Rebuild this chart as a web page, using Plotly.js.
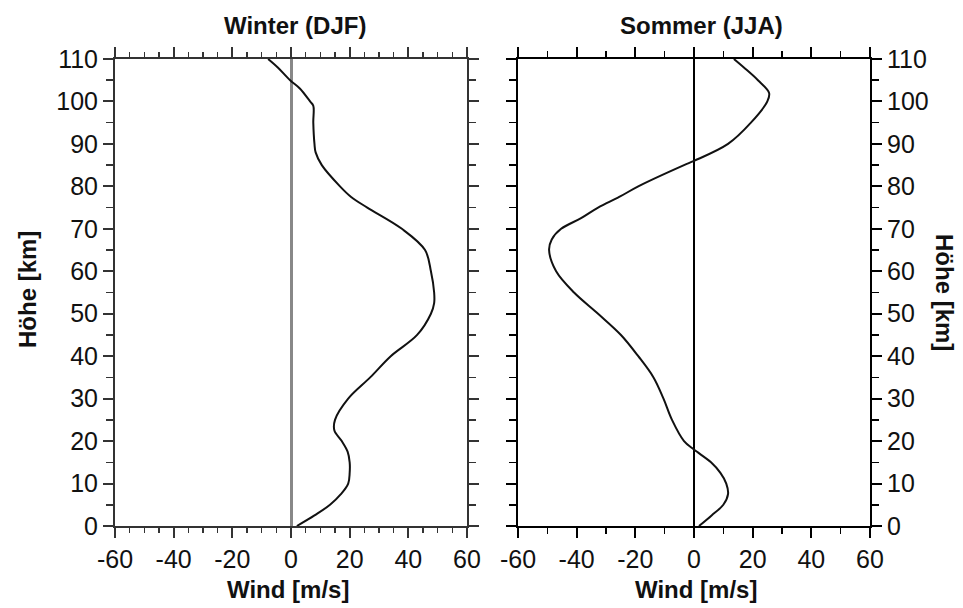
<!DOCTYPE html>
<html>
<head>
<meta charset="utf-8">
<script src="https://cdn.plot.ly/plotly-3.0.1.min.js"></script>
<style>html,body{margin:0;padding:0;background:#fff;}#chart{width:963px;height:608px;}</style>
</head>
<body>
<div id="chart"></div>
<script>
// Winter (DJF) zonal wind profile
const winterHeight = [0, 2.5, 5, 7.5, 10, 12.5, 15, 17.5, 20, 22.5, 25, 30, 35, 40, 45, 50, 52.5, 55, 60, 65, 70, 75, 77.5, 80, 85, 88, 90, 95, 99, 100, 103, 105, 108, 110];
const winterWind   = [2, 8, 13.3, 17, 19.5, 20, 20, 19.3, 17.3, 14.8, 15, 19.5, 27, 34, 43, 47.7, 48.8, 48.8, 47.7, 45.7, 37.8, 26, 20.5, 16.7, 10.5, 8.4, 8, 7.6, 7.6, 6.5, 3.1, -0.3, -4.5, -7.8];
// Summer (JJA) zonal wind profile
const summerHeight = [0, 2.5, 5, 7.5, 10, 12.5, 15, 18, 20, 25, 30, 35, 40, 45, 50, 55, 60, 65, 67.5, 70, 72.5, 75, 77.5, 80, 85, 86, 90, 95, 100, 102, 105, 108, 110];
const summerWind   = [1.7, 6, 10, 11.6, 11, 9, 5.8, 0, -3.4, -7.5, -10.4, -13.8, -19, -24.9, -32.7, -40.9, -47, -49.4, -48.5, -45.3, -38.5, -32.7, -25.5, -19, -3.4, 0, 11.6, 19.4, 25, 25.6, 21.8, 17, 13.6];

const windTickVals = [-60, -40, -20, 0, 20, 40, 60];
const windTickText = ['-60', '-40', '-20', '0', '20', '40', '60'];
const heightTickVals = [0, 10, 20, 30, 40, 50, 60, 70, 80, 90, 100, 110];
const heightTickText = ['0', '10', '20', '30', '40', '50', '60', '70', '80', '90', '100', '110'];

const panelTitles = ['Winter (DJF)', 'Sommer (JJA)'];
const xTitle = 'Wind [m/s]';
const yTitle = 'Höhe [km]';

const W = 963, H = 608;
const FONT = 'Liberation Sans, Arial, sans-serif';
const tickFont = {family: FONT, size: 25, color: '#111'};
const titleFont = {family: FONT, size: 24, color: '#111'};

const traces = [
  {x: winterWind, y: winterHeight, xaxis: 'x', yaxis: 'y', mode: 'lines',
   line: {color: '#111', width: 2, shape: 'spline', smoothing: 1.0}, hoverinfo: 'skip'},
  {x: summerWind, y: summerHeight, xaxis: 'x2', yaxis: 'y2', mode: 'lines',
   line: {color: '#111', width: 2, shape: 'spline', smoothing: 1.0}, hoverinfo: 'skip'}
];

function xAx(dom, anchor, col, zcol, zw, minorDt, minorLen) {
  return {
    domain: dom, anchor: anchor, range: [-60, 60], fixedrange: true,
    tickmode: 'array', tickvals: windTickVals, ticktext: windTickText,
    ticks: 'outside', ticklen: 10, tickwidth: 2, tickcolor: col,
    minor: {dtick: minorDt, tick0: 0, ticks: 'outside', ticklen: minorLen, tickwidth: 1.5, tickcolor: col, showgrid: false},
    showline: true, linecolor: col, linewidth: 2, mirror: 'ticks',
    showgrid: false, zeroline: true, zerolinecolor: zcol, zerolinewidth: zw,
    tickfont: tickFont
  };
}
function yAx(dom, anchor, side, col) {
  return {
    domain: dom, anchor: anchor, side: side, range: [0, 110], fixedrange: true,
    tickmode: 'array', tickvals: heightTickVals, ticktext: heightTickText,
    ticks: 'outside', ticklen: 10, tickwidth: 2, tickcolor: col,
    minor: {dtick: 5, tick0: 0, ticks: 'outside', ticklen: 7, tickwidth: 1.5, tickcolor: col, showgrid: false},
    showline: true, linecolor: col, linewidth: 2, mirror: 'ticks',
    showgrid: false, zeroline: false, tickfont: tickFont
  };
}

const yDom = [1 - 526 / H, 1 - 59 / H];
const layout = {
  width: W, height: H,
  margin: {l: 0, r: 0, t: 0, b: 0},
  paper_bgcolor: '#fff', plot_bgcolor: '#fff',
  showlegend: false,
  xaxis: xAx([115 / W, 467 / W], 'y', '#333', '#888', 3, 5, 5),
  yaxis: yAx(yDom, 'x', 'left', '#333'),
  xaxis2: xAx([518 / W, 870 / W], 'y2', '#000', '#000', 2, 10, 6),
  yaxis2: yAx(yDom, 'x2', 'right', '#000'),
  annotations: [
    {text: '<b>' + panelTitles[0] + '</b>', xref: 'paper', yref: 'paper', x: 295 / W, y: 1 - 25 / H,
     showarrow: false, xanchor: 'center', yanchor: 'middle', font: titleFont},
    {text: '<b>' + panelTitles[1] + '</b>', xref: 'paper', yref: 'paper', x: 701 / W, y: 1 - 25 / H,
     showarrow: false, xanchor: 'center', yanchor: 'middle', font: titleFont},
    {text: '<b>' + xTitle + '</b>', xref: 'paper', yref: 'paper', x: 288 / W, y: 1 - 589 / H,
     showarrow: false, xanchor: 'center', yanchor: 'middle', font: titleFont},
    {text: '<b>' + xTitle + '</b>', xref: 'paper', yref: 'paper', x: 696 / W, y: 1 - 589 / H,
     showarrow: false, xanchor: 'center', yanchor: 'middle', font: titleFont},
    {text: '<b>' + yTitle + '</b>', xref: 'paper', yref: 'paper', x: 27 / W, y: 1 - 290 / H, textangle: -90,
     showarrow: false, xanchor: 'center', yanchor: 'middle', font: titleFont},
    {text: '<b>' + yTitle + '</b>', xref: 'paper', yref: 'paper', x: 945 / W, y: 1 - 292 / H, textangle: 90,
     showarrow: false, xanchor: 'center', yanchor: 'middle', font: titleFont}
  ]
};

Plotly.newPlot('chart', traces, layout, {staticPlot: true, displayModeBar: false});
</script>
</body>
</html>
